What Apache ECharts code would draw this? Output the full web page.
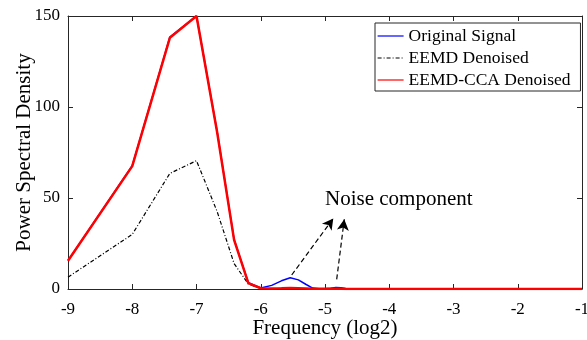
<!DOCTYPE html>
<html>
<head>
<meta charset="utf-8">
<script src="https://cdn.jsdelivr.net/npm/echarts@6/dist/echarts.min.js"></script>
<style>
  html, body { margin: 0; padding: 0; background: #fff; }
  #chart { width: 587px; height: 340px; }
</style>
</head>
<body>
<div id="chart"></div>
<script>
// Frequency bins on a log2 scale (bin k of 2^-9 spacing, k = 1..22, then coarse tail)
const freqLog2 = [-9, -8, -7.415, -7, -6.678, -6.415, -6.193, -6, -5.830, -5.678, -5.541,
  -5.415, -5.300, -5.193, -5.093, -5, -4.913, -4.830, -4.752, -4.678, -4.608, -4.541,
  -4, -3, -2, -1];

// Power spectral density of each signal at those bins
const originalSignal = [15.6, 67.7, 138.4, 150, 86.3, 27.2, 3.4, 0.6, 2.0, 4.5, 6.2,
  5.0, 2.6, 0.5, 0.15, 0.1, 0.4, 0.8, 0.7, 0.25, 0.1, 0.05, 0, 0, 0, 0];
const eemdDenoised = [6.5, 30, 63.5, 70.5, 42.5, 14, 2.7, 0.3, 0.2, 0.3, 0.4,
  0.3, 0.2, 0.1, 0.1, 0.1, 0.1, 0.1, 0.1, 0.05, 0, 0, 0, 0, 0, 0];
const eemdCcaDenoised = [15.5, 67.5, 138, 150, 86, 27, 3.2, 0.4, 0.3, 0.4, 0.5,
  0.4, 0.3, 0.2, 0.1, 0.1, 0.1, 0.15, 0.1, 0.05, 0, 0, 0, 0, 0, 0];

// Axis ticks
const xTicks = [-9, -8, -7, -6, -5, -4, -3, -2, -1];
const yTicks = [0, 50, 100, 150];

// Annotation arrows pointing at the noise bumps: [from, to] in data space
const noiseArrows = [
  [[-5.518, 7.7], [-4.871, 38.8]],
  [[-4.818, 5.3], [-4.700, 38.3]]
];

const serif = '"Liberation Serif", "Times New Roman", serif';
const axisColor = '#262626';

function pairs(xs, ys) { return xs.map((x, i) => [x, ys[i]]); }

const tickStyle = { inside: true, length: 5, lineStyle: { color: axisColor, width: 1 } };
const lineAxis = { show: true, onZero: false, lineStyle: { color: axisColor, width: 1 } };

const chart = echarts.init(document.getElementById('chart'), null, { renderer: 'canvas' });
chart.setOption({
  animation: false,
  backgroundColor: '#ffffff',
  grid: { left: 68, right: 5, top: 16, bottom: 51, containLabel: false, outerBoundsMode: 'none' },
  xAxis: [
    {
      type: 'value', min: xTicks[0], max: xTicks[xTicks.length - 1], interval: 1,
      position: 'bottom',
      name: 'Frequency (log2)', nameLocation: 'middle', nameGap: 29, nameMoveOverlap: false,
      nameTextStyle: { fontFamily: serif, fontSize: 21, color: '#000' },
      axisLine: lineAxis, axisTick: tickStyle,
      axisLabel: { fontFamily: serif, fontSize: 17, color: '#000', margin: 12 },
      splitLine: { show: false }
    },
    {
      type: 'value', min: xTicks[0], max: xTicks[xTicks.length - 1], interval: 1,
      position: 'top',
      axisLine: lineAxis, axisTick: tickStyle,
      axisLabel: { show: false }, splitLine: { show: false }
    }
  ],
  yAxis: [
    {
      type: 'value', min: yTicks[0], max: yTicks[yTicks.length - 1], interval: 50,
      position: 'left',
      name: 'Power Spectral Density', nameLocation: 'middle', nameGap: 33, nameMoveOverlap: false,
      nameTextStyle: { fontFamily: serif, fontSize: 21, color: '#000' },
      axisLine: lineAxis, axisTick: tickStyle,
      axisLabel: { fontFamily: serif, fontSize: 17, color: '#000', margin: 8 },
      splitLine: { show: false }
    },
    {
      type: 'value', min: yTicks[0], max: yTicks[yTicks.length - 1], interval: 50,
      position: 'right',
      axisLine: lineAxis, axisTick: tickStyle,
      axisLabel: { show: false }, splitLine: { show: false }
    }
  ],
  legend: {
    orient: 'vertical', left: 375, top: 23,
    backgroundColor: '#fff',
    borderColor: axisColor, borderWidth: 1, borderRadius: 0,
    padding: [4, 10, 2, 2], itemGap: 4, itemWidth: 26, itemHeight: 14,
    lineStyle: { width: 1.2 },
    itemStyle: { opacity: 0 },
    textStyle: { fontFamily: serif, fontSize: 17.5, color: '#000' },
    data: ['Original Signal', 'EEMD Denoised', 'EEMD-CCA Denoised']
  },
  graphic: [
    {
      type: 'text', left: 325, top: 189, silent: true,
      style: { text: 'Noise component', font: '21px ' + serif, fill: '#000' }
    }
  ],
  series: [
    {
      name: 'Original Signal', type: 'line', symbol: 'none', z: 3,
      data: pairs(freqLog2, originalSignal),
      lineStyle: { color: '#0000ff', width: 1.5 },
      itemStyle: { color: '#0000ff' }
    },
    {
      name: 'EEMD Denoised', type: 'line', symbol: 'none', z: 2,
      data: pairs(freqLog2, eemdDenoised),
      lineStyle: { color: '#000', width: 1.2, type: [4, 2, 1, 2] },
      itemStyle: { color: '#000' },
      markLine: {
        silent: true, symbol: ['none', 'arrow'], symbolSize: [9, 11],
        label: { show: false },
        lineStyle: { color: '#000', width: 1.2, type: [5, 3] },
        data: noiseArrows.map(a => [{ coord: a[0] }, { coord: a[1] }])
      }
    },
    {
      name: 'EEMD-CCA Denoised', type: 'line', symbol: 'none', z: 4,
      data: pairs(freqLog2, eemdCcaDenoised),
      lineStyle: { color: '#ff0000', width: 2.5 },
      itemStyle: { color: '#ff0000' }
    }
  ]
});
</script>
</body>
</html>
